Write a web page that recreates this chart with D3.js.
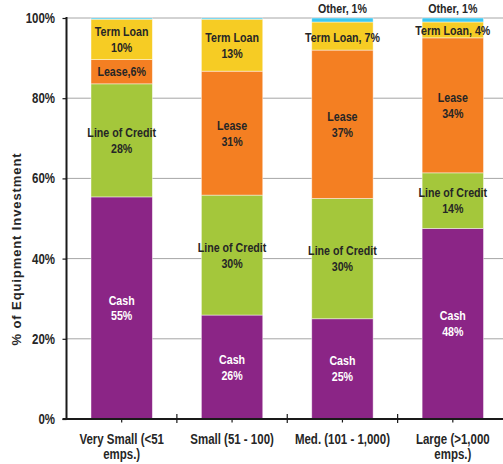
<!DOCTYPE html>
<html>
<head>
<meta charset="utf-8">
<script src="https://cdn.jsdelivr.net/npm/d3@7"></script>
<style>
  html, body { margin: 0; padding: 0; background: #fff; }
  svg { display: block; }
  .narrow { font-family: "Liberation Sans", Arial, sans-serif; font-weight: bold; }
  .wide { font-family: "Liberation Sans", Arial, sans-serif; font-weight: bold; }
</style>
</head>
<body>
<svg id="chart" width="503" height="464"></svg>
<script>
// Company size groups (x axis)
const categories = [
  ["Very Small (<51", "emps.)"],
  ["Small (51 - 100)"],
  ["Med. (101 - 1,000)"],
  ["Large (>1,000", "emps.)"]
];
const categoryKeys = ["Very Small", "Small", "Med.", "Large"];

// Financing sources, bottom to top
const seriesNames = ["Cash", "Line of Credit", "Lease", "Term Loan", "Other"];
const cash         = [55, 26, 25, 48];
const lineOfCredit = [28, 30, 30, 14];
const lease        = [6, 31, 37, 34];
const termLoan     = [10, 13, 7, 4];
const other        = [0.3, 0.3, 1, 1];

const yTicks = [0, 20, 40, 60, 80, 100];

const colors = {
  "Cash": "#8b2586",
  "Line of Credit": "#a4c73b",
  "Lease": "#f47f22",
  "Term Loan": "#f6cc24",
  "Other": "#3ec7ef"
};

const rows = categoryKeys.map((k, i) => ({
  key: k,
  "Cash": cash[i],
  "Line of Credit": lineOfCredit[i],
  "Lease": lease[i],
  "Term Loan": termLoan[i],
  "Other": other[i]
}));

const svg = d3.select("#chart");
const plotLeft = 66.5, plotRight = 508, plotTop = 18, plotBottom = 419;
const NARROW = 0.82; // horizontal squeeze for the condensed label face

const x = d3.scaleBand().domain(categoryKeys).range([plotLeft, plotRight])
  .paddingInner(0.444).paddingOuter(0.222);
const y = d3.scaleLinear().domain([0, 100]).range([plotBottom, plotTop]);

// condensed, centred text block: lines stacked around (cx, cy)
function narrowText(parent, cx, cy, lines, size, fill, gap, anchor) {
  const gg = parent.append("g")
    .attr("transform", `translate(${cx},${cy}) scale(${NARROW},1)`);
  const t = gg.append("text").attr("class", "narrow")
    .attr("font-size", size).attr("fill", fill)
    .attr("text-anchor", anchor || "middle");
  const n = lines.length;
  lines.forEach((s, j) => {
    t.append("tspan").attr("x", 0)
      .attr("y", (j - (n - 1) / 2) * gap).attr("dy", "0.35em").text(s);
  });
  return gg;
}

// gridlines
svg.append("g").selectAll("line").data(yTicks.filter(d => d > 0)).join("line")
  .attr("x1", plotLeft).attr("x2", 503)
  .attr("y1", d => y(d)).attr("y2", d => y(d))
  .attr("stroke", "#a6a6a6").attr("stroke-width", 1);

// stacked, normalised to 100%
const stack = d3.stack().keys(seriesNames).offset(d3.stackOffsetExpand);
const layers = stack(rows);

const g = svg.append("g");
layers.forEach(layer => {
  g.append("g").selectAll("rect").data(layer).join("rect")
    .attr("x", d => x(d.data.key))
    .attr("width", x.bandwidth())
    .attr("y", d => y(d[1] * 100))
    .attr("height", d => y(d[0] * 100) - y(d[1] * 100))
    .attr("fill", colors[layer.key])
    .attr("stroke", "rgba(255,255,255,0.55)")
    .attr("stroke-width", 0.8);
});

// segment labels
// style: "two" = name over value, "comma" = "Name, v%", "tight" = "Name,v%", "above" = above the bar
const labelStyle = {
  "Very Small": { "Cash": "two", "Line of Credit": "two", "Lease": "tight", "Term Loan": "two" },
  "Small":      { "Cash": "two", "Line of Credit": "two", "Lease": "two", "Term Loan": "two" },
  "Med.":       { "Cash": "two", "Line of Credit": "two", "Lease": "two", "Term Loan": "comma", "Other": "above" },
  "Large":      { "Cash": "two", "Line of Credit": "two", "Lease": "two", "Term Loan": "comma", "Other": "above" }
};
const seriesValues = [cash, lineOfCredit, lease, termLoan, other];

const lab = svg.append("g");
layers.forEach(layer => {
  const name = layer.key;
  const idx = seriesNames.indexOf(name);
  layer.forEach((d, i) => {
    const k = d.data.key;
    const style = labelStyle[k][name];
    if (!style) return;
    const v = seriesValues[idx][i];
    const cx = x(k) + x.bandwidth() / 2;
    const cy = (y(d[0] * 100) + y(d[1] * 100)) / 2;
    const fill = name === "Cash" ? "#ffffff" : "#262626";
    if (style === "two") {
      narrowText(lab, cx, cy, [name, v + "%"], 13, fill, 16);
    } else if (style === "tight") {
      narrowText(lab, cx, cy, [name + "," + v + "%"], 13, fill, 16);
    } else if (style === "comma") {
      narrowText(lab, cx, cy + 1, [name + ", " + v + "%"], 13, fill, 16);
    } else if (style === "above") {
      narrowText(lab, cx, y(100) - 10, [name + ", " + v + "%"], 13, fill, 16);
    }
  });
});

// y axis
const yAxis = d3.axisLeft(y).tickValues(yTicks).tickFormat(d => d + "%").tickSize(4).tickPadding(7);
const ya = svg.append("g").attr("transform", `translate(${plotLeft},0)`).call(yAxis);
ya.select(".domain").attr("stroke", "#1a1a1a").attr("stroke-width", 2).attr("d", `M0,${plotTop - 1}V${plotBottom}`);
ya.selectAll(".tick line").attr("stroke", "#1a1a1a").attr("stroke-width", 1.2);
ya.selectAll(".tick text").attr("class", "narrow").attr("font-size", 14).attr("fill", "#262626")
  .attr("x", 0).attr("transform", `translate(-11.5,0) scale(${NARROW},1)`);

// x axis
const xa = svg.append("g").attr("transform", `translate(0,${plotBottom})`);
xa.append("line").attr("x1", plotLeft - 4).attr("x2", 503).attr("y1", 0).attr("y2", 0)
  .attr("stroke", "#1a1a1a").attr("stroke-width", 2);
// category boundary ticks
xa.selectAll(".bt").data(categoryKeys.slice(1)).join("line").attr("class", "bt")
  .attr("x1", d => x(d) - x.step() * x.paddingInner() / 2)
  .attr("x2", d => x(d) - x.step() * x.paddingInner() / 2)
  .attr("y1", -5).attr("y2", 4).attr("stroke", "#1a1a1a").attr("stroke-width", 1.2);
// centre ticks
xa.selectAll(".ct").data(categoryKeys).join("line").attr("class", "ct")
  .attr("x1", d => x(d) + x.bandwidth() / 2).attr("x2", d => x(d) + x.bandwidth() / 2)
  .attr("y1", 0).attr("y2", 3.5).attr("stroke", "#1a1a1a").attr("stroke-width", 1.2);

categories.forEach((lines, i) => {
  const cx = x(categoryKeys[i]) + x.bandwidth() / 2;
  const gg = xa.append("g").attr("transform", `translate(${cx},0) scale(${NARROW},1)`);
  const t = gg.append("text").attr("class", "narrow").attr("font-size", 14)
    .attr("text-anchor", "middle").attr("fill", "#262626");
  lines.forEach((s, j) => {
    t.append("tspan").attr("x", 0).attr("y", 25 + j * 15).text(s);
  });
});

// y axis title
svg.append("text").attr("class", "wide").attr("font-size", 13)
  .attr("fill", "#262626").attr("text-anchor", "middle")
  .attr("letter-spacing", 0.9)
  .attr("transform", "translate(21,249) rotate(-90)")
  .text("% of Equipment Investment");
</script>
</body>
</html>
